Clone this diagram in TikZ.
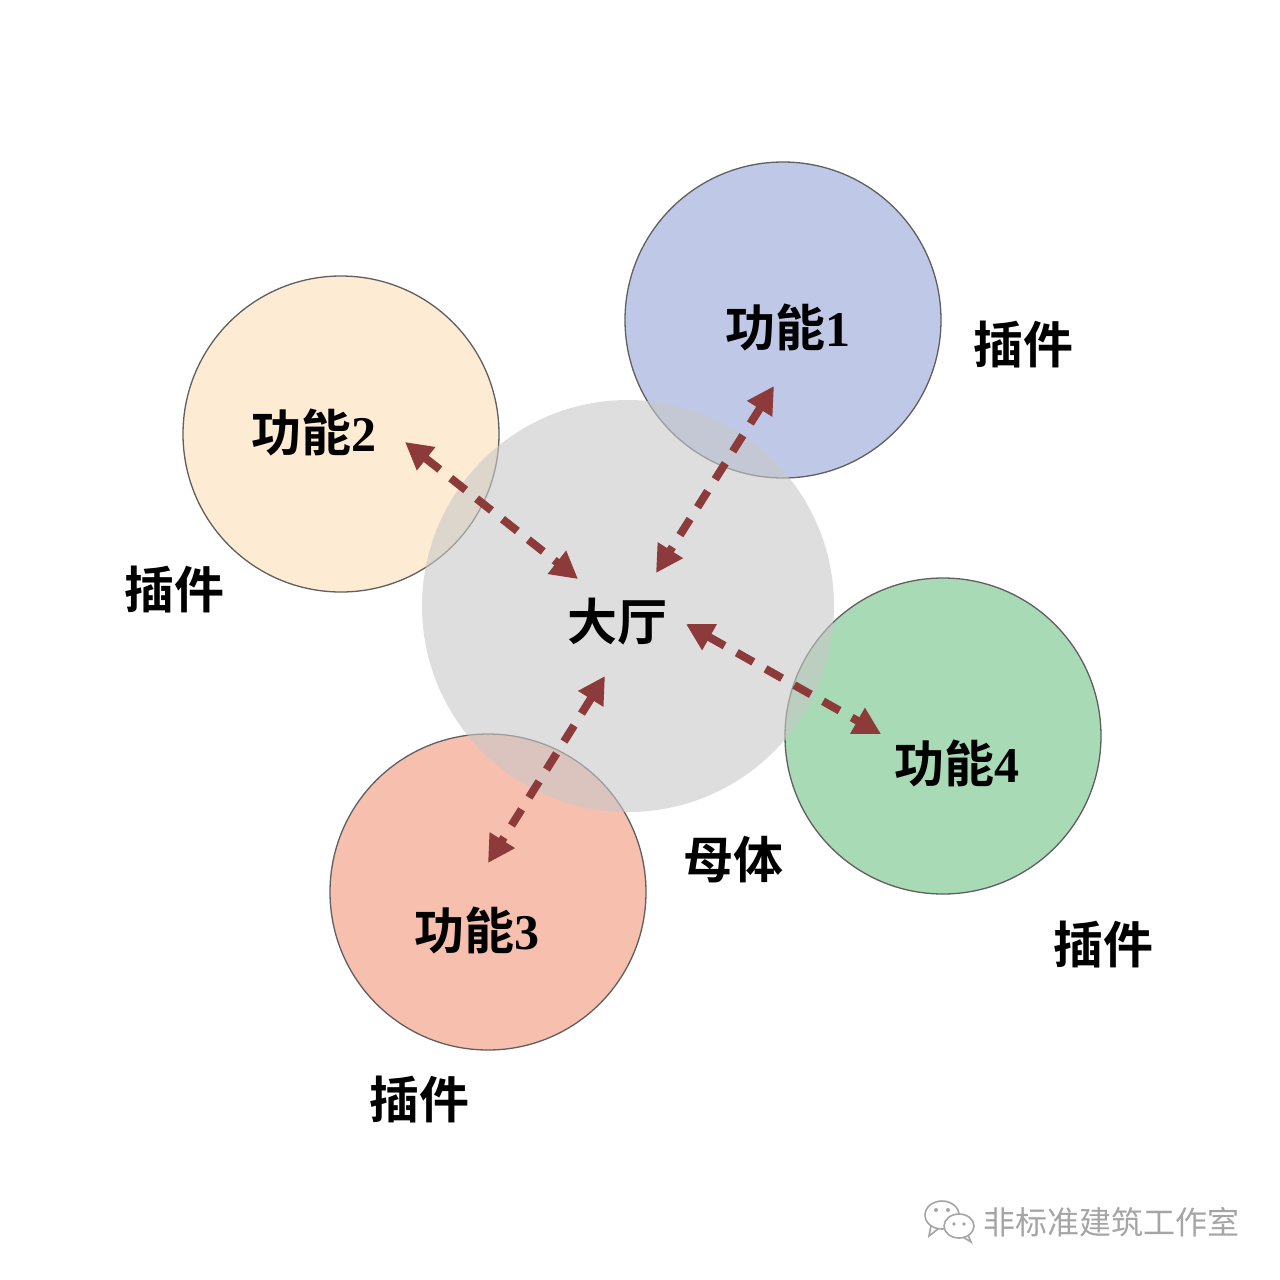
\documentclass[tikz,border=0pt]{standalone}
\usepackage{fontspec}
\setmainfont{Liberation Serif}
\newfontfamily\cjk{Noto Sans CJK SC}
\newfontfamily\cjkb{Noto Sans CJK SC Bold}
\newfontfamily\digitfont{Liberation Serif Bold}
\usetikzlibrary{arrows.meta}
\definecolor{arrowred}{RGB}{140,58,58}
\definecolor{grayfill}{RGB}{200,200,200}
\definecolor{bluefill}{RGB}{191,200,230}
\definecolor{orangefill}{RGB}{253,235,211}
\definecolor{redfill}{RGB}{246,191,174}
\definecolor{greenfill}{RGB}{168,218,181}
\definecolor{bordergray}{RGB}{95,95,95}
\definecolor{wmgray}{RGB}{165,165,165}
\tikzset{
  plugin/.style={circle, draw=bordergray, line width=1.3pt, minimum size=316pt, inner sep=0pt},
  hall/.style={circle, fill=grayfill, fill opacity=0.6, draw=none, minimum size=412pt, inner sep=0pt},
  lbl/.style={font=\cjkb\fontsize{50}{54}\selectfont, text=black, inner sep=0pt},
  conn/.style={draw=arrowred, line width=8pt, dash pattern=on 19pt off 14pt,
    {Triangle[length=27pt,width=28pt]}-{Triangle[length=27pt,width=28pt]}},
}
\begin{document}
\begin{tikzpicture}[x=1pt,y=-1pt]
\useasboundingbox[fill=white] (0,0) rectangle (1280,1280);
% plug-in circles
\node[plugin, fill=bluefill] (c1) at (783,320) {};
\node[plugin, fill=orangefill] (c2) at (341,434) {};
\node[plugin, fill=redfill] (c3) at (488,892) {};
\node[plugin, fill=greenfill] (c4) at (943,736) {};
% hall (mother body)
\node[hall] (hc) at (628,606) {};
% labels
\node[lbl] (f1) at (788,327) {功能{\digitfont 1}};
\node[lbl] (f2) at (314,432) {功能{\digitfont 2}};
\node[lbl] (f3) at (477,930) {功能{\digitfont 3}};
\node[lbl] (f4) at (957,763) {功能{\digitfont 4}};
\node[lbl] (hall) at (617,622) {大厅};
\node[lbl] (mt) at (733,860) {母体};
\node[lbl] (p1) at (1023,345) {插件};
\node[lbl] (p2) at (174,590) {插件};
\node[lbl] (p3) at (419,1100) {插件};
\node[lbl] (p4) at (1103,945) {插件};
% connector end points
\coordinate (a1s) at (774,386);
\coordinate (a1e) at (656,573);
\coordinate (a2s) at (405,442);
\coordinate (a2e) at (578,579);
\coordinate (a3s) at (605,676);
\coordinate (a3e) at (488,863);
\coordinate (a4s) at (686,624);
\coordinate (a4e) at (881,734);
\draw[conn] (a1s) -- (a1e);
\draw[conn] (a2s) -- (a2e);
\draw[conn] (a3s) -- (a3e);
\draw[conn] (a4s) -- (a4e);
% watermark
\node[font=\cjk\fontsize{32}{34}\selectfont, text=wmgray, anchor=west, inner sep=0pt] (wm) at (983,1222) {非标准建筑工作室};
\begin{scope}[draw=wmgray, line width=1.6pt]
  \draw[fill=white] (942,1215) ellipse (17 and 14);
  \draw (931,1226) -- (929,1236) -- (938,1229);
  \fill[wmgray] (936,1210) circle (2);
  \fill[wmgray] (948,1210) circle (2);
  \draw[fill=white] (959,1226) ellipse (15 and 12);
  \draw (968,1235) -- (971,1242) -- (963,1237);
  \fill[wmgray] (954,1224) circle (1.8);
  \fill[wmgray] (964,1224) circle (1.8);
\end{scope}
\end{tikzpicture}
\end{document}
